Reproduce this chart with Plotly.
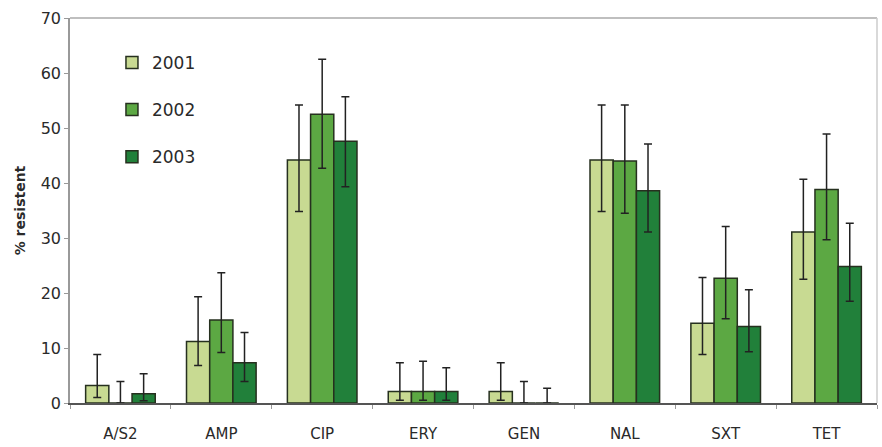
import plotly.graph_objects as go

categories = ["A/S2", "AMP", "CIP", "ERY", "GEN", "NAL", "SXT", "TET"]
years = ["2001", "2002", "2003"]

# percentage resistant per year
res_2001 = [3.2, 11.2, 44.2, 2.1, 2.1, 44.2, 14.5, 31.1]
res_2002 = [0.0, 15.1, 52.5, 2.1, 0.0, 44.0, 22.7, 38.8]
res_2003 = [1.7, 7.3, 47.6, 2.1, 0.0, 38.6, 13.9, 24.8]

# confidence interval bounds
hi_2001 = [8.8, 19.3, 54.2, 7.3, 7.3, 54.2, 22.8, 40.7]
lo_2001 = [1.0, 6.8, 34.8, 0.5, 0.5, 34.8, 8.8, 22.5]
hi_2002 = [3.9, 23.7, 62.5, 7.6, 3.9, 54.2, 32.1, 48.9]
lo_2002 = [0.0, 9.2, 42.7, 0.5, 0.0, 34.5, 15.3, 29.7]
hi_2003 = [5.3, 12.8, 55.7, 6.4, 2.7, 47.1, 20.6, 32.7]
lo_2003 = [0.4, 3.9, 39.3, 0.5, 0.0, 31.1, 9.3, 18.5]

colors = ["#c8da92", "#5ca843", "#21803a"]

series = [
    (res_2001, hi_2001, lo_2001),
    (res_2002, hi_2002, lo_2002),
    (res_2003, hi_2003, lo_2003),
]

fig = go.Figure()
for name, color, (vals, hi, lo) in zip(years, colors, series):
    fig.add_trace(go.Bar(
        x=categories,
        y=vals,
        name=name,
        legendgroup=name,
        marker=dict(color=color, line=dict(color="#26301f", width=1.5)),
        error_y=dict(
            type="data",
            symmetric=False,
            array=[h - v for h, v in zip(hi, vals)],
            arrayminus=[v - l for v, l in zip(vals, lo)],
            color="#222222",
            thickness=1.5,
            width=4,
        ),
    ))

fig.update_layout(
    width=882,
    height=447,
    margin=dict(l=70, r=5, t=18, b=44),
    paper_bgcolor="white",
    plot_bgcolor="white",
    barmode="group",
    bargap=0.31,
    bargroupgap=0,
    font=dict(family="DejaVu Sans", color="#2a2a2a"),
    legend=dict(
        x=0.052, y=0.93, xanchor="left", yanchor="top",
        font=dict(size=17, color="#2a2a2a"),
        bgcolor="rgba(0,0,0,0)",
        tracegroupgap=22,
        itemwidth=30,
    ),
    xaxis=dict(
        showline=True, linecolor="#555555", linewidth=1.5,
        ticks="outside", tickson="boundaries", ticklen=4, tickcolor="#999999",
        tickfont=dict(size=15, color="#2a2a2a"),
        ticklabelstandoff=16,
        automargin=False,
        showgrid=False,
    ),
    yaxis=dict(
        range=[0, 70], dtick=10,
        showline=True, linecolor="#999999", linewidth=1.5,
        ticks="outside", ticklen=4, tickcolor="#999999",
        tickfont=dict(size=16, color="#2a2a2a"),
        showgrid=False, zeroline=False,
        title=dict(text="<b>% resistent</b>", font=dict(size=14, color="#2a2a2a"), standoff=12),
    ),
    shapes=[
        dict(type="line", xref="paper", yref="paper", x0=0, x1=1, y0=1, y1=1,
             line=dict(color="#aaaaaa", width=1.5)),
        dict(type="line", xref="paper", yref="paper", x0=1, x1=1, y0=0, y1=1,
             line=dict(color="#cccccc", width=1.5)),
    ],
)

fig.write_html("out.html")
